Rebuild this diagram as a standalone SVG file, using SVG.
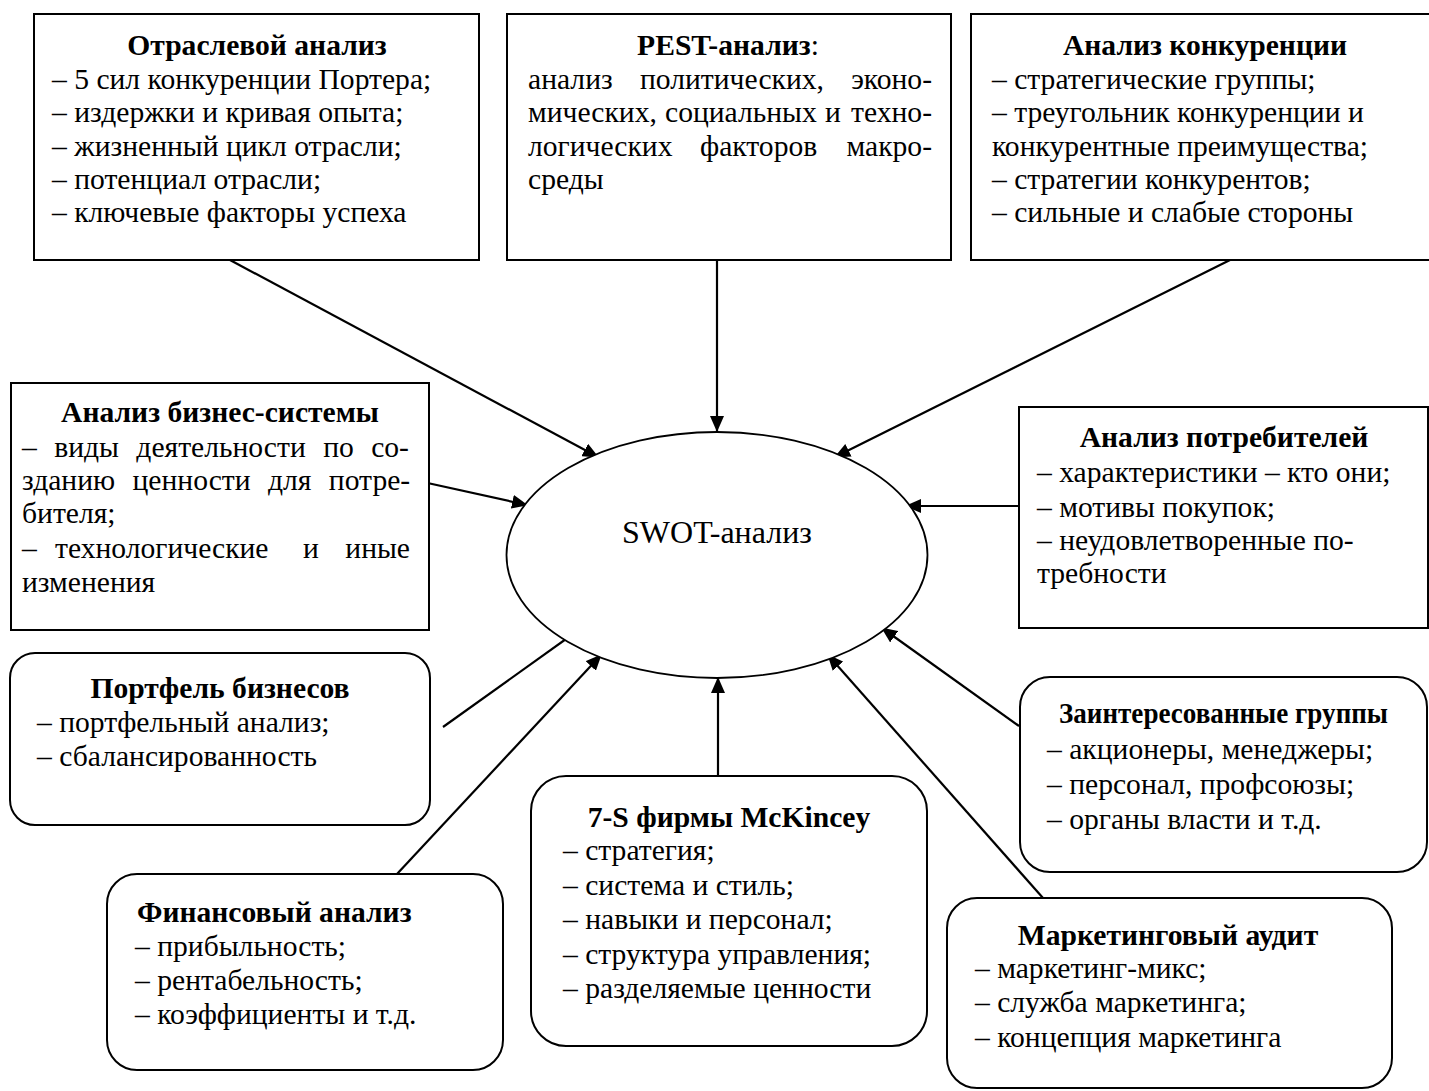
<svg xmlns="http://www.w3.org/2000/svg" width="1429" height="1091" viewBox="0 0 1429 1091">
<defs>
<style>
.box{fill:#fff;stroke:#000;stroke-width:2}
text{font-family:"Liberation Serif","Times New Roman",serif;font-size:29.6px;fill:#000}
.t{font-weight:bold;text-anchor:middle}
.tl{font-weight:bold}
.e{text-anchor:end}
.c{stroke:#000;stroke-width:2.2;fill:none;marker-end:url(#ah)}
</style>
<marker id="ah" markerWidth="16" markerHeight="14" refX="15" refY="7" orient="auto" markerUnits="userSpaceOnUse">
<path d="M0,0 L16,7 L0,14 z" fill="#000"/>
</marker>
</defs>
<rect width="1429" height="1091" fill="#fff"/>

<g id="connectors">
<line class="c" x1="230" y1="260" x2="598" y2="457"/>
<line class="c" x1="717" y1="260" x2="717" y2="431"/>
<line class="c" x1="1230" y1="260" x2="835" y2="457"/>
<line class="c" x1="423" y1="482" x2="527" y2="505"/>
<line class="c" x1="1019" y1="506" x2="906" y2="506"/>
<line class="c" x1="443" y1="727" x2="580" y2="629"/>
<line class="c" x1="397" y1="874" x2="601" y2="655"/>
<line class="c" x1="718" y1="776" x2="718" y2="678"/>
<line class="c" x1="1043" y1="898" x2="828" y2="655"/>
<line class="c" x1="1019" y1="726" x2="882" y2="628"/>
</g>

<g id="swot">
<ellipse cx="717" cy="555" rx="210.5" ry="123" fill="#fff" stroke="#000" stroke-width="1.8"/>
<text x="717" y="543" text-anchor="middle" style="font-size:32px">SWOT-анализ</text>
</g>

<g id="otraslevoy">
<rect class="box" x="34" y="14" width="445" height="246"/>
<text class="t" x="257" y="55">Отраслевой анализ</text>
<text x="52" y="88.5">– 5 сил конкуренции Портера;</text>
<text x="52" y="122">– издержки и кривая опыта;</text>
<text x="52" y="155.5">– жизненный цикл отрасли;</text>
<text x="52" y="189">– потенциал отрасли;</text>
<text x="52" y="222">– ключевые факторы успеха</text>
</g>

<g id="pest">
<rect class="box" x="507" y="14" width="444" height="246"/>
<text x="728" y="55" text-anchor="middle"><tspan font-weight="bold">PEST-анализ</tspan>:</text>
<text x="528" y="88.5">анализ</text>
<text x="640" y="88.5">политических,</text>
<text class="e" x="932" y="88.5">эконо-</text>
<text x="528" y="122">мических,</text>
<text x="665" y="122">социальных</text>
<text x="825" y="122">и</text>
<text class="e" x="932" y="122">техно-</text>
<text x="528" y="155.5">логических</text>
<text x="700" y="155.5">факторов</text>
<text class="e" x="932" y="155.5">макро-</text>
<text x="528" y="189">среды</text>
</g>

<g id="konkurencia">
<rect class="box" x="971" y="14" width="470" height="246"/>
<text class="t" x="1205" y="55">Анализ конкуренции</text>
<text x="992" y="88.5">– стратегические группы;</text>
<text x="992" y="122">– треугольник конкуренции и</text>
<text x="992" y="155.5">конкурентные преимущества;</text>
<text x="992" y="189">– стратегии конкурентов;</text>
<text x="992" y="222">– сильные и слабые стороны</text>
</g>

<g id="biznes-sistema">
<rect class="box" x="11" y="383" width="418" height="247"/>
<text class="t" x="220" y="422">Анализ бизнес-системы</text>
<text x="22" y="457" word-spacing="10">– виды деятельности по со-</text>
<text x="22" y="490" word-spacing="10">зданию ценности для потре-</text>
<text x="22" y="523">бителя;</text>
<text x="22" y="558">–</text>
<text x="55" y="558">технологические</text>
<text x="303" y="558">и</text>
<text class="e" x="410" y="558">иные</text>
<text x="22" y="592">изменения</text>
</g>

<g id="potrebiteli">
<rect class="box" x="1019" y="407" width="409" height="221"/>
<text class="t" x="1224" y="447">Анализ потребителей</text>
<text x="1037" y="482">– характеристики – кто они;</text>
<text x="1037" y="517">– мотивы покупок;</text>
<text x="1037" y="550">– неудовлетворенные по-</text>
<text x="1037" y="583">требности</text>
</g>

<g id="portfel">
<rect class="box" x="10" y="653" width="420" height="172" rx="25"/>
<text class="t" x="220" y="698">Портфель бизнесов</text>
<text x="37" y="732">– портфельный анализ;</text>
<text x="37" y="766">– сбалансированность</text>
</g>

<g id="finansy">
<rect class="box" x="107" y="874" width="396" height="196" rx="30"/>
<text class="tl" x="137" y="922">Финансовый анализ</text>
<text x="135" y="956">– прибыльность;</text>
<text x="135" y="990">– рентабельность;</text>
<text x="135" y="1024">– коэффициенты и т.д.</text>
</g>

<g id="mckinsey">
<rect class="box" x="531" y="776" width="396" height="270" rx="35"/>
<text class="t" x="729" y="827">7-S фирмы McKincey</text>
<text x="563" y="860">– стратегия;</text>
<text x="563" y="895">– система и стиль;</text>
<text x="563" y="929">– навыки и персонал;</text>
<text x="563" y="964">– структура управления;</text>
<text x="563" y="998">– разделяемые ценности</text>
</g>

<g id="zainteresovannye">
<rect class="box" x="1020" y="677" width="407" height="195" rx="30"/>
<text class="tl" x="1059" y="723" textLength="329" lengthAdjust="spacingAndGlyphs">Заинтересованные группы</text>
<text x="1047" y="759">– акционеры, менеджеры;</text>
<text x="1047" y="794">– персонал, профсоюзы;</text>
<text x="1047" y="829">– органы власти и т.д.</text>
</g>

<g id="marketing">
<rect class="box" x="947" y="898" width="445" height="190" rx="30"/>
<text class="t" x="1168" y="945">Маркетинговый аудит</text>
<text x="975" y="978">– маркетинг-микс;</text>
<text x="975" y="1012">– служба маркетинга;</text>
<text x="975" y="1047">– концепция маркетинга</text>
</g>
</svg>
